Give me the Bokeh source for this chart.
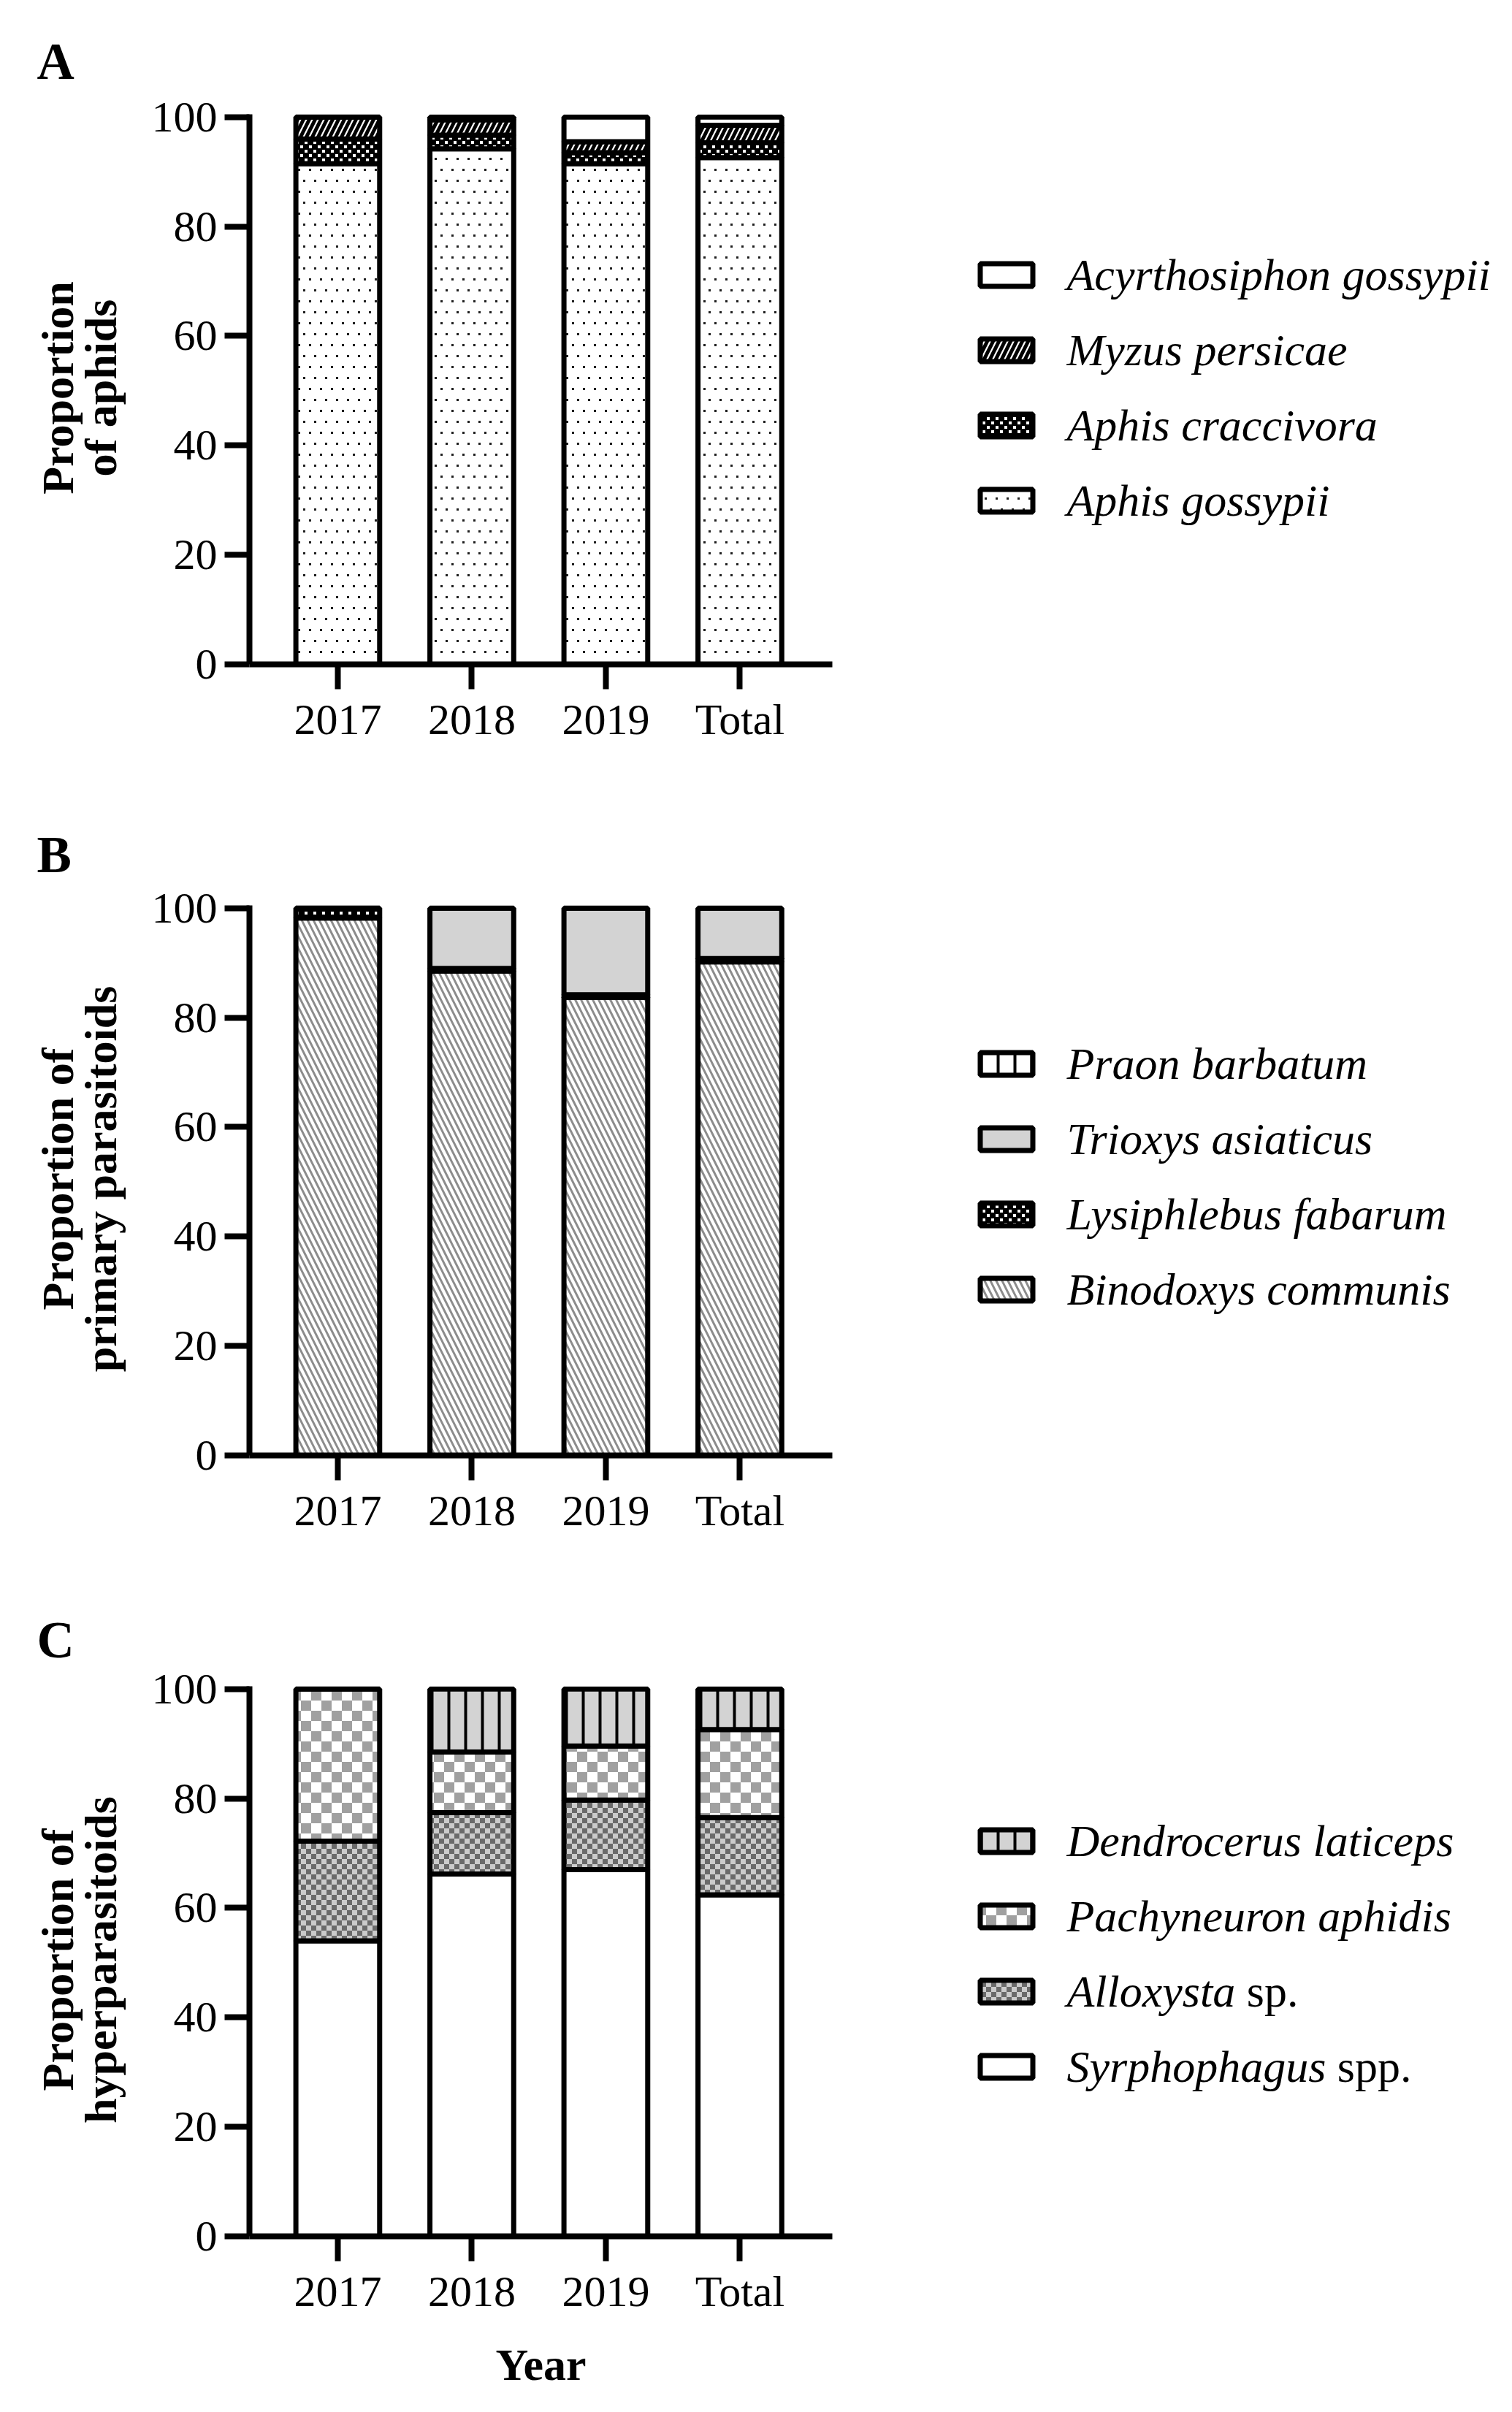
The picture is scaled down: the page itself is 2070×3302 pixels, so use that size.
import base64
import numpy as np
from math import pi
from bokeh.plotting import figure
from bokeh.models import ColumnDataSource, Range1d, FixedTicker, ImageURLTexture
from bokeh.layouts import column, row
from bokeh.core.properties import value
from bokeh.embed import file_html
from bokeh.resources import INLINE

# ---------------- data ----------------
years = ["2017", "2018", "2019", "Total"]
y_ticks = [0, 20, 40, 60, 80, 100]

# Panel A - aphids (stack order: bottom -> top)
aphis_gossypii = [91.5, 94.2, 91.5, 92.6]
aphis_craccivora = [4.5, 2.5, 2.0, 2.7]
myzus_persicae = [4.0, 2.8, 2.0, 3.2]
acyrthosiphon_gossypii = [0.0, 0.5, 4.5, 1.5]

# Panel B - primary parasitoids
binodoxys_communis = [98.2, 88.5, 83.7, 90.2]
lysiphlebus_fabarum = [1.8, 0.5, 0.5, 0.6]
trioxys_asiaticus = [0.0, 11.0, 15.8, 9.2]
praon_barbatum = [0.0, 0.0, 0.0, 0.0]

# Panel C - hyperparasitoids
syrphophagus_spp = [54.0, 66.2, 67.0, 62.4]
alloxysta_sp = [18.2, 11.2, 12.7, 14.1]
pachyneuron_aphidis = [27.8, 11.1, 9.9, 16.1]
dendrocerus_laticeps = [0.0, 11.5, 10.4, 7.4]

# legend labels: (text, italic) parts
LABELS = {
    "acy": [("Acyrthosiphon gossypii", True)],
    "myz": [("Myzus persicae", True)],
    "cra": [("Aphis craccivora", True)],
    "gos": [("Aphis gossypii", True)],
    "pra": [("Praon barbatum", True)],
    "tri": [("Trioxys asiaticus", True)],
    "lys": [("Lysiphlebus fabarum", True)],
    "bin": [("Binodoxys communis", True)],
    "den": [("Dendrocerus laticeps", True)],
    "pac": [("Pachyneuron aphidis", True)],
    "all": [("Alloxysta", True), ("sp.", False)],
    "syr": [("Syrphophagus", True), ("spp.", False)],
}

# ---------------- styles ----------------
SERIF = "Liberation Serif"


def svg_texture(body, size):
    svg = ("<svg xmlns='http://www.w3.org/2000/svg' width='%d' height='%d'>%s</svg>"
           % (size, size, body))
    url = "data:image/svg+xml;base64," + base64.b64encode(svg.encode()).decode()
    return ImageURLTexture(url=url)


def checker(bg, fg, n, inset=0):
    s = 2 * n
    w = n - 2 * inset
    body = ("<rect width='%d' height='%d' fill='%s'/>"
            "<rect x='%d' y='%d' width='%d' height='%d' fill='%s'/>"
            "<rect x='%d' y='%d' width='%d' height='%d' fill='%s'/>"
            % (s, s, bg, inset, inset, w, w, fg, n + inset, n + inset, w, w, fg))
    return svg_texture(body, s)


dots_tex = svg_texture("<g fill='#1e1e1e'><rect x='2' y='6' width='3' height='3'/>"
                       "<rect x='17' y='6' width='3' height='3'/>"
                       "<rect x='10' y='21' width='3' height='3'/>"
                       "<rect x='25' y='21' width='3' height='3'/></g>", 30)
small_bw = checker("#000000", "#ffffff", 6, 1)
small_gray = checker("#cbcbcb", "#6a6a6a", 7, 0)
big_gray = checker("#ffffff", "#a0a0a0", 14, 0)

STY = {
    "gos": dict(fill_color="white", hatch_pattern=value("dots"), hatch_extra={"dots": dots_tex}),
    "cra": dict(fill_color="black", hatch_pattern=value("sbw"), hatch_extra={"sbw": small_bw}),
    "myz": dict(fill_color="white", hatch_pattern="right_diagonal_line", hatch_color="black",
                hatch_scale=16, hatch_weight=5),
    "acy": dict(fill_color="white"),
    "bin": dict(fill_color="white", hatch_pattern="left_diagonal_line", hatch_color="#8c8c8c",
                hatch_scale=16, hatch_weight=3),
    "lys": dict(fill_color="black", hatch_pattern=value("sbw"), hatch_extra={"sbw": small_bw}),
    "tri": dict(fill_color="#d3d3d3"),
    "pra": dict(fill_color="white", hatch_pattern="vertical_line", hatch_color="black",
                hatch_scale=23, hatch_weight=4),
    "syr": dict(fill_color="white"),
    "all": dict(fill_color="#cbcbcb", hatch_pattern=value("sg"), hatch_extra={"sg": small_gray}),
    "pac": dict(fill_color="white", hatch_pattern=value("bg"), hatch_extra={"bg": big_gray}),
    "den": dict(fill_color="#d3d3d3", hatch_pattern="vertical_line", hatch_color="black",
                hatch_scale=23, hatch_weight=4),
}

# Times-Italic advance widths (per 1000 em) for placing the roman part of mixed labels
TI_W = {"A": 611, "l": 278, "o": 500, "x": 444, "y": 444, "s": 389, "t": 278, "a": 500,
        "S": 500, "r": 389, "p": 500, "h": 500, "g": 500, "u": 500, " ": 250}


def ital_width(txt, size):
    return sum(TI_W.get(c, 500) for c in txt) / 1000.0 * size


# ---------------- layout constants ----------------
LEFT_W, CHART_W, LEG_W = 188, 1120, 754
BORDER_L, BORDER_R, FRAME_H = 153, 169, 753
X0 = -0.659
X1 = X0 + 798 / 183.5
BAR_W = 0.625
LEG_DY = 103


def borders(height, top):
    return dict(min_border_top=top, min_border_bottom=height - top - FRAME_H)


def chart(series, keys, height, top, xlabel=None):
    p = figure(width=CHART_W, height=height, x_range=Range1d(X0, X1), y_range=Range1d(0, 100.5),
               output_backend="svg", toolbar_location=None,
               min_border_left=BORDER_L, min_border_right=BORDER_R, **borders(height, top))
    xs = list(range(len(years)))
    bottom = np.zeros(len(years))
    for vals, key in zip(series, keys):
        topv = bottom + np.array(vals, dtype=float)
        src = ColumnDataSource(dict(x=xs, bottom=bottom.tolist(), top=topv.tolist()))
        p.vbar(x="x", bottom="bottom", top="top", width=BAR_W, source=src,
               line_color="black", line_width=7, **STY[key])
        bottom = topv
    p.xaxis.ticker = FixedTicker(ticks=xs)
    p.xaxis.major_label_overrides = {i: y for i, y in enumerate(years)}
    p.yaxis.ticker = FixedTicker(ticks=y_ticks)
    for ax in p.axis:
        ax.axis_line_width = 8
        ax.axis_line_color = "black"
        ax.major_tick_line_width = 8
        ax.major_tick_line_color = "black"
        ax.major_tick_out = 34
        ax.major_tick_in = 0
        ax.minor_tick_line_color = None
        ax.major_label_text_font = SERIF
        ax.major_label_text_font_size = "60px"
        ax.major_label_text_color = "black"
    p.xaxis.major_label_standoff = 8
    p.yaxis.major_label_standoff = 10
    if xlabel:
        p.xaxis.axis_label = xlabel
        p.xaxis.axis_label_text_font = SERIF
        p.xaxis.axis_label_text_font_style = "bold"
        p.xaxis.axis_label_text_font_size = "62px"
        p.xaxis.axis_label_text_color = "black"
        p.xaxis.axis_label_standoff = 30
    p.grid.visible = False
    p.outline_line_color = None
    return p


def left(letter, ylines, height, top, standoff):
    q = figure(width=LEFT_W, height=height, x_range=Range1d(0, LEFT_W), y_range=Range1d(0, FRAME_H),
               output_backend="svg", toolbar_location=None, min_border_left=0, min_border_right=0,
               x_axis_type=None, y_axis_type=None, **borders(height, top))
    q.grid.visible = False
    q.outline_line_color = None
    q.title.text = letter
    q.title.text_font = SERIF
    q.title.text_font_style = "bold"
    q.title.text_font_size = "71px"
    q.title.text_color = "black"
    q.title.align = "left"
    q.title.offset = 50
    q.title.standoff = standoff
    q.text(x=[78, 137], y=[FRAME_H / 2 + 2] * 2, text=ylines, angle=pi / 2,
           text_font=value(SERIF), text_font_style="bold", text_font_size="62px",
           text_align="center", text_baseline="middle", text_color="black")
    return q


def legend(keys, height, top, rel):
    q = figure(width=LEG_W, height=height, x_range=Range1d(0, LEG_W),
               y_range=Range1d(top + FRAME_H, top),
               output_backend="svg", toolbar_location=None, min_border_left=0, min_border_right=0,
               x_axis_type=None, y_axis_type=None, **borders(height, top))
    q.grid.visible = False
    q.outline_line_color = None
    for k, key in enumerate(reversed(keys)):
        yc = top + rel + k * LEG_DY
        q.rect(x=[69.5], y=[yc], width=72, height=31, line_color="black", line_width=7, **STY[key])
        x = 152.0
        for txt, ital in LABELS[key]:
            q.text(x=[x], y=[yc - 1], text=[txt], text_font=value(SERIF),
                   text_font_style="italic" if ital else "normal", text_font_size="62px",
                   text_align="left", text_baseline="middle", text_color="black")
            x += ital_width(txt + " ", 62)
    return q


keysA = ["gos", "cra", "myz", "acy"]
keysB = ["bin", "lys", "tri", "pra"]
keysC = ["syr", "all", "pac", "den"]

rows = []
for (series, keys, h, top, letter, ylines, xl, so, rel) in [
    ([aphis_gossypii, aphis_craccivora, myzus_persicae, acyrthosiphon_gossypii], keysA, 1091, 156,
     "A", ["Proportion", "of aphids"], None, 68, 220),
    ([binodoxys_communis, lysiphlebus_fabarum, trioxys_asiaticus, praon_barbatum], keysB, 1069, 148,
     "B", ["Proportion of", "primary parasitoids"], None, 62, 217),
    ([syrphophagus_spp, alloxysta_sp, pachyneuron_aphidis, dendrocerus_laticeps], keysC, 1136, 148,
     "C", ["Proportion of", "hyperparasitoids"], "Year", 50, 212),
]:
    rows.append(row(left(letter, ylines, h, top, so), chart(series, keys, h, top, xl),
                    legend(keys, h, top, rel)))

layout = column(*rows)

with open("out.html", "w") as f:
    f.write(file_html(layout, INLINE))
